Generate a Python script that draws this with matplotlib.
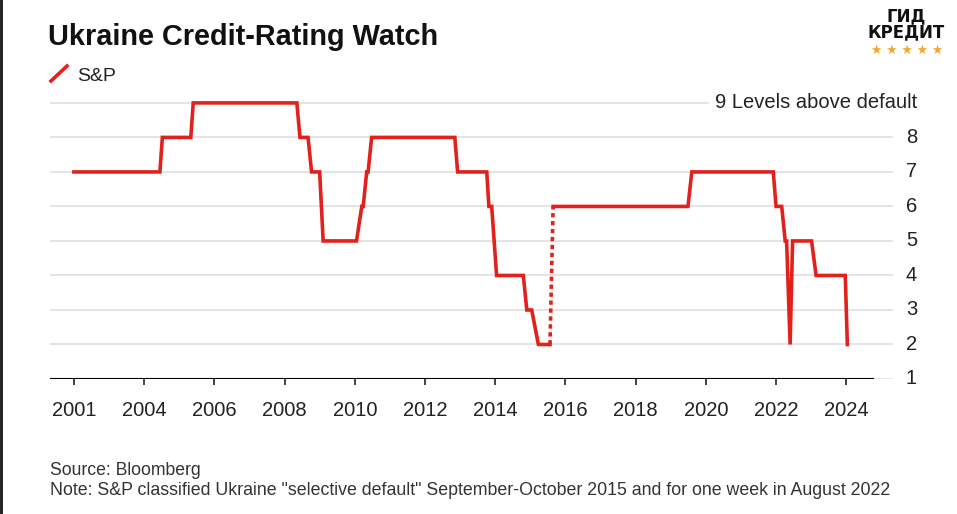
#!/usr/bin/env python3
# -*- coding: utf-8 -*-
"""
Ukraine credit-rating watch (S&P), levels above default.
"""

import matplotlib.pyplot as plt
import matplotlib.transforms as mtransforms
from matplotlib.lines import Line2D
from matplotlib.patches import Rectangle

### ===========================================================================
# S&P rating path (decimal year, levels above default)
years_a = [2002.0, 2004.45, 2004.52, 2005.33, 2005.4, 2008.35, 2008.44, 2008.67,
           2008.77, 2009.0, 2009.1, 2010.05, 2010.2, 2010.24, 2010.34, 2010.38,
           2010.48, 2012.85, 2012.93, 2013.76, 2013.82, 2013.9, 2014.04, 2014.8,
           2014.9, 2015.04, 2015.23, 2015.56]
levels_a = [7, 7, 8, 8, 9, 9, 8, 8,
            7, 7, 5, 5, 6, 6, 7, 7,
            8, 8, 7, 7, 6, 6, 4, 4,
            3, 3, 2, 2]

# selective default gap, Sep-Oct 2015
years_gap = [2015.56, 2015.65]
levels_gap = [2, 6]

years_b = [2015.65, 2019.49, 2019.6, 2021.92, 2022.0, 2022.16, 2022.26, 2022.3,
           2022.4, 2022.47, 2023.01, 2023.14, 2023.97, 2024.03]
levels_b = [6, 6, 7, 7, 6, 6, 5, 5,
            2, 5, 5, 4, 4, 2]

xtick_pos = [2002, 2004, 2006, 2008, 2010, 2012, 2014, 2016, 2018, 2020, 2022, 2024]
xtick_labels = ['2001', '2004', '2006', '2008', '2010', '2012', '2014', '2016',
                '2018', '2020', '2022', '2024']
ytick_pos = [1, 2, 3, 4, 5, 6, 7, 8, 9]
ytick_labels = ['1', '2', '3', '4', '5', '6', '7', '8', '9 Levels above default']

### ===========================================================================
params = {'font.family': ['Liberation Sans', 'DejaVu Sans'],
          'xtick.labelsize': 14.5,
          'xtick.major.width': 1.2,
          'xtick.major.size': 4,
          'xtick.color': '#222222'}
plt.rcParams.update(params)

RED = '#e2211c'
GRID = '#dcdcdc'
W, H = 957, 514

fig = plt.figure(figsize=(W / 100, H / 100), dpi=100)
fig.patch.set_facecolor('white')

# axes: x 50..893 px, y 96..379 px
ax = fig.add_axes([50 / W, 1 - 379 / H, 843 / W, (379 - 96) / H])
ax.set_xlim(2001.32, 2025.33)
ax.set_ylim(1, 9.2)
for s in ax.spines.values():
    s.set_visible(False)

# gridlines (level 9 line stops before its label)
for lv in ytick_pos[1:-1]:
    ax.axhline(lv, color=GRID, lw=1.1, zorder=1)
ax.axhline(ytick_pos[-1], xmax=(708 - 50) / 843, color=GRID, lw=1.1, zorder=1)
ax.axhline(ytick_pos[0], color=GRID, lw=1.1, zorder=1)
ax.axhline(ytick_pos[0], xmax=(873 - 50) / 843, color='black', lw=1.5, zorder=2)

ax.plot(years_a, levels_a, color=RED, lw=2.6, solid_joinstyle='miter', zorder=3)
ax.plot(years_gap, levels_gap, color=RED, lw=2.6, ls=(0, (1.2, 1.0)), zorder=3)
ax.plot(years_b, levels_b, color=RED, lw=2.6, solid_joinstyle='miter', zorder=3)

ax.set_xticks(xtick_pos)
ax.set_xticklabels(xtick_labels)
ax.tick_params(axis='x', direction='out', pad=12)
ax.set_yticks([])

# right-hand level labels
trans = mtransforms.blended_transform_factory(fig.transFigure, ax.transData)
for lv, lab in zip(ytick_pos, ytick_labels):
    ax.text(917 / W, lv, lab, transform=trans, ha='right', va='center',
            fontsize=14.5, color='#222222')

# title, legend, notes
fig.text(48 / W, 1 - 45 / H, 'Ukraine Credit-Rating Watch', fontsize=20.8,
         fontweight='bold', color='#111111', va='baseline')
fig.add_artist(Line2D([51 / W, 67 / W], [1 - 81 / H, 1 - 66 / H],
                      color=RED, lw=2.6, transform=fig.transFigure))
fig.text(77 / W, 1 - 81 / H, 'S&P', fontsize=14, color='#222222', va='baseline')
fig.text(50 / W, 1 - 475 / H, 'Source: Bloomberg', fontsize=12.7,
         color='#333333', va='baseline')
fig.text(50 / W, 1 - 495 / H,
         'Note: S&P classified Ukraine "selective default" September-October '
         '2015 and for one week in August 2022', fontsize=12.75,
         color='#333333', va='baseline')

# logo
fig.text(906 / W, 1 - 7 / H, 'ГИД\nКРЕДИТ', fontsize=12, fontweight='heavy',
         family='DejaVu Sans', ha='center', va='top', multialignment='center',
         linespacing=0.85, color='#111111')
fig.text(907 / W, 1 - 50 / H, '★ ★ ★ ★ ★', fontsize=9, family='DejaVu Sans',
         ha='center', va='center', color='#f5a623')

# dark frame edge on the left
fig.add_artist(Rectangle((0, 0), 3 / W, 1, transform=fig.transFigure,
                         color='#262626', lw=0))

fig.savefig('out.png', dpi=100)
plt.close()
